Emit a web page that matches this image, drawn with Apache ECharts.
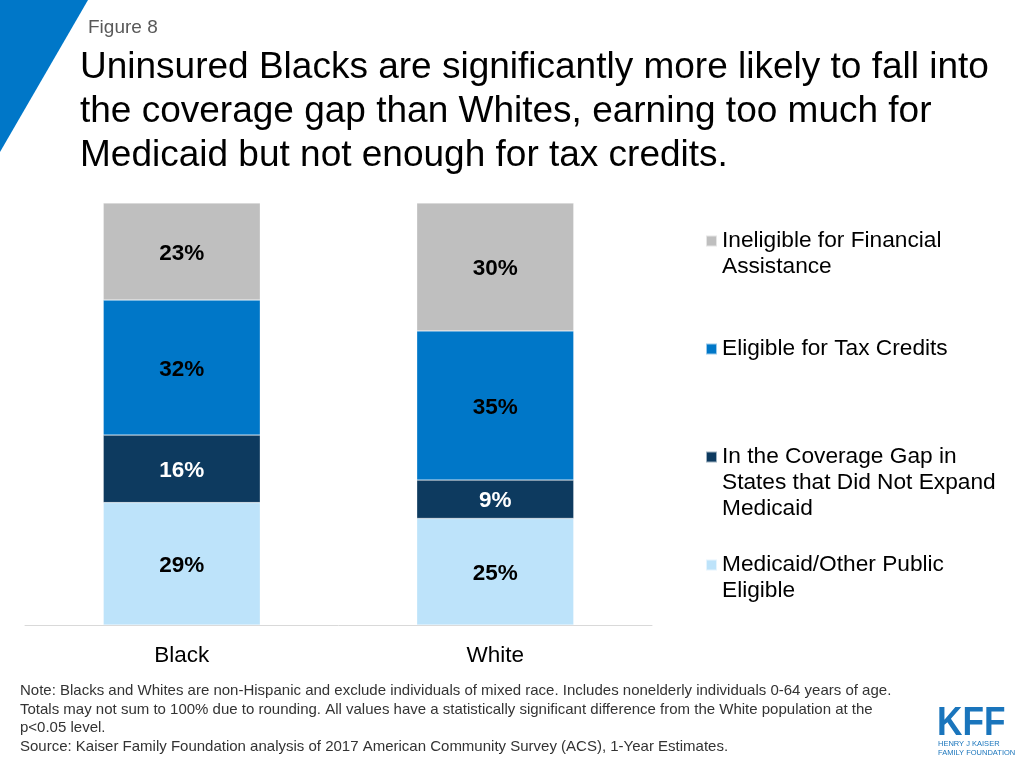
<!DOCTYPE html>
<html><head><meta charset="utf-8">
<script src="https://cdn.jsdelivr.net/npm/echarts@6/dist/echarts.min.js"></script>
<style>html,body{margin:0;padding:0;background:#fff}#c{width:1024px;height:768px}</style>
</head><body><div id="c"></div>
<script>
const categories = ['Black', 'White'];
const seriesNames = [
  'Medicaid/Other Public\nEligible',
  'In the Coverage Gap in\nStates that Did Not Expand\nMedicaid',
  'Eligible for Tax Credits',
  'Ineligible for Financial\nAssistance'
];
const medicaidEligible = [29, 25];
const coverageGap = [16, 9];
const taxCredits = [32, 35];
const ineligible = [23, 30];
const colors = ['#BDE3FA', '#0D3A5F', '#0077C8', '#BFBFBF'];
const labelColors = ['#000', '#fff', '#000', '#000'];

const raw = [medicaidEligible, coverageGap, taxCredits, ineligible];
const totals = categories.map((c, i) => raw.reduce((s, a) => s + a[i], 0));

const FONT = '"Liberation Sans", Arial, Helvetica, sans-serif';

const series = raw.map((vals, k) => ({
  name: seriesNames[k],
  type: 'bar',
  stack: 'total',
  barWidth: 157,
  data: vals.map((v, i) => ({ value: v / totals[i] * 100, raw: v })),
  itemStyle: { color: colors[k], borderColor: 'rgba(255,255,255,0.6)', borderWidth: 0.5 },
  label: {
    show: true, position: 'inside', offset: [0, 2],
    formatter: p => p.data.raw + '%',
    color: labelColors[k], fontFamily: FONT, fontWeight: 'bold', fontSize: 22.5
  },
  emphasis: { disabled: true }
}));

// legend items: top order as in reference
const legendOrder = [3, 2, 1, 0];
const legendFirstLineY = [241, 349, 457, 565];
const LH = 26;
const legends = legendOrder.map((k, j) => {
  const n = seriesNames[k].split('\n').length;
  return {
    data: [seriesNames[k]],
    left: 705, top: legendFirstLineY[j] - (2 * n - 1) * LH / 2,
    padding: 0, orient: 'vertical',
    icon: 'rect', itemWidth: 11, itemHeight: 11, itemGap: 0,
    selectedMode: false,
    formatter: name => ' \n'.repeat(n - 1) + name,
    textStyle: { fontFamily: FONT, fontSize: 22.7, color: '#000', lineHeight: LH }
  };
});

const chart = echarts.init(document.getElementById('c'), null, { renderer: 'canvas' });
chart.setOption({
  animation: false,
  backgroundColor: '#fff',
  grid: { left: 25, right: 372, top: 203, bottom: 143 },
  xAxis: {
    type: 'category', data: categories,
    axisLine: { lineStyle: { color: '#D9D9D9', width: 1 } },
    axisTick: { show: false },
    axisLabel: { fontFamily: FONT, fontSize: 22.5, color: '#000', margin: 19 }
  },
  yAxis: { type: 'value', min: 0, max: 100, show: false, splitLine: { show: false } },
  legend: legends,
  series: series,
  graphic: [
    { type: 'polygon', shape: { points: [[0, 0], [88, 0], [0, 152]] }, style: { fill: '#0077C8' } },
    { type: 'text', left: 88, top: 18, style: { text: 'Figure 8', fontFamily: FONT, fontSize: 19, fill: '#595959' } },
    { type: 'text', left: 80, top: 46, style: {
      text: 'Uninsured Blacks are significantly more likely to fall into\nthe coverage gap than Whites, earning too much for\nMedicaid but not enough for tax credits.',
      fontFamily: FONT, fontSize: 37, lineHeight: 44, fill: '#000' } },
    { type: 'text', left: 20, top: 682, style: {
      text: 'Note: Blacks and Whites are non-Hispanic and exclude individuals of mixed race. Includes nonelderly individuals 0-64 years of age.\nTotals may not sum to 100% due to rounding. All values have a statistically significant difference from the White population at the\np<0.05 level.\nSource: Kaiser Family Foundation analysis of 2017 American Community Survey (ACS), 1-Year Estimates.',
      fontFamily: FONT, fontSize: 15, lineHeight: 18.4, fill: '#333' } },
    { type: 'text', x: 937, y: 704, scaleX: 0.88, style: { text: 'KFF', fontFamily: FONT, fontWeight: 'bold', fontSize: 40, fill: '#1A75BC' } },
    { type: 'text', x: 938, y: 740, style: { text: 'HENRY J KAISER\nFAMILY FOUNDATION', fontFamily: FONT, fontSize: 7.5, lineHeight: 8.5, fill: '#1A75BC' } }
  ]
});
</script>
</body></html>
